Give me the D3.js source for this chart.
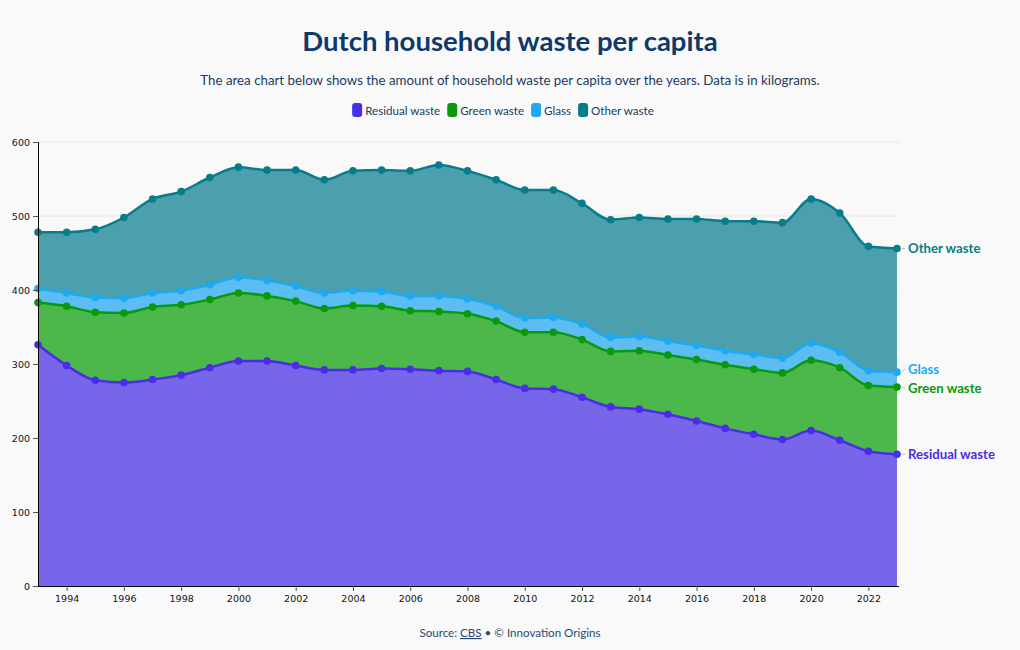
<!DOCTYPE html>
<html><head><meta charset="utf-8">
<script src="https://cdn.jsdelivr.net/npm/d3@7"></script>
<style>
body{margin:0;background:#f9f9f9;}
svg{display:block;}
</style></head>
<body>
<svg id="chart" width="1020" height="650"></svg>
<script>
const years = d3.range(1993, 2024);
const seriesNames = ["Residual waste", "Green waste", "Glass", "Other waste"];
const residual = [326,298,278,275,279,285,295,304,304,298,292,292,294,293,291,290,279,267,266,255,242,239,232,223,213,205,198,210,197,182,178];
const green = [57,80,92,94,98,95,92,92,88,87,83,87,84,79,80,78,79,76,77,78,75,79,80,83,86,88,90,95,98,89,91];
const glass = [19,18,20,20,19,19,20,21,21,20,21,20,20,20,21,20,20,19,20,21,19,19,19,19,19,20,20,23,21,20,20];
const other = [76,82,92,109,127,134,145,149,149,157,153,162,164,169,177,173,171,173,172,163,159,161,165,171,175,180,183,195,188,168,167];
const yTicks = [0,100,200,300,400,500,600];
const xTicks = [1994,1996,1998,2000,2002,2004,2006,2008,2010,2012,2014,2016,2018,2020,2022];

const lineColors = ["#4a2de6","#0b990b","#1fa9ee","#077d8c"];
const fillColors = ["#7866ea","#4cb84c","#5bbdf1","#4c9fad"];
const labelColors = ["#4a2de6","#0b990b","#1fa9ee","#077d8c"];

const table = years.map((y,i)=>({year:y,"Residual waste":residual[i],"Green waste":green[i],"Glass":glass[i],"Other waste":other[i]}));
const stack = d3.stack().keys(seriesNames)(table);

const svg = d3.select("#chart");
const font = "'Source Sans Pro', Lato, 'Noto Sans', sans-serif";
const m = {l:38, r:123, t:142, b:64};
const W = 1020, H = 650;
const x = d3.scaleLinear().domain([1993,2023]).range([m.l, W-m.r]);
const y = d3.scaleLinear().domain([0,600]).range([H-m.b, m.t]);

svg.append("text").attr("x",510).attr("y",51).attr("text-anchor","middle")
  .attr("font-family",font).attr("font-weight","bold").attr("font-size",27.5).attr("fill","#0d3a6a")
  .text("Dutch household waste per capita");
svg.append("text").attr("x",510).attr("y",85).attr("text-anchor","middle")
  .attr("font-family",font).attr("font-size",13.3).attr("fill","#1c3b5e")
  .text("The area chart below shows the amount of household waste per capita over the years. Data is in kilograms.");

// legend
const leg = svg.append("g");
let lx = 0;
seriesNames.forEach((n,i)=>{
  const g = leg.append("g").attr("transform",`translate(${lx},0)`);
  g.append("rect").attr("x",0).attr("y",-7).attr("width",10).attr("height",14).attr("rx",3).attr("fill",lineColors[i]);
  const t = g.append("text").attr("x",13).attr("y",4.5).attr("font-family",font).attr("font-size",11.6).attr("fill","#1c3b5e").text(n);
  lx += 13 + t.node().getComputedTextLength() + 7;
});
const legW = lx - 7;
leg.attr("transform",`translate(${503-legW/2},110)`);

// grid
svg.append("g").selectAll("line").data(yTicks.filter(d=>d>0)).join("line")
  .attr("x1",m.l).attr("x2",W-m.r+2).attr("y1",d=>y(d)).attr("y2",d=>y(d))
  .attr("stroke","#e6e6e6").attr("stroke-width",1);

const area = d3.area().x(d=>x(d.data.year)).y0(d=>y(d[0])).y1(d=>y(d[1])).curve(d3.curveMonotoneX);
const line = d3.line().x(d=>x(d.data.year)).y(d=>y(d[1])).curve(d3.curveMonotoneX);

svg.append("g").selectAll("path").data(stack).join("path")
  .attr("d",area).attr("fill",(d,i)=>fillColors[i]);

stack.forEach((s,i)=>{
  svg.append("path").datum(s).attr("d",line).attr("fill","none").attr("stroke",lineColors[i]).attr("stroke-width",2.5);
});
stack.forEach((s,i)=>{
  svg.append("g").selectAll("circle").data(s).join("circle")
    .attr("cx",d=>x(d.data.year)).attr("cy",d=>y(d[1])).attr("r",3.8).attr("fill",lineColors[i]);
});

// axes
const yAx = svg.append("g").attr("transform",`translate(${m.l},0)`)
  .call(d3.axisLeft(y).tickValues(yTicks).tickSize(5).tickPadding(3));
yAx.selectAll("text").attr("font-family","'DejaVu Sans', sans-serif").attr("font-size",9.5).attr("fill","#111");
yAx.select(".domain").attr("stroke","#000");
yAx.selectAll(".tick line").attr("stroke","#555");

const xAx = svg.append("g").attr("transform",`translate(0,${H-m.b})`)
  .call(d3.axisBottom(x).tickValues(xTicks).tickFormat(d3.format("d")).tickSize(5).tickSizeOuter(0).tickPadding(4));
xAx.select(".domain").attr("d",`M${m.l},0.5H${W-m.r+2}`).attr("stroke","#000");
xAx.selectAll("text").attr("font-family","'DejaVu Sans', sans-serif").attr("font-size",9.5).attr("fill","#111");
xAx.selectAll(".tick line").attr("stroke","#555");

// end labels
const lastVals = stack.map(s=>s[s.length-1][1]);
const labelOffsets = [0, 2, -3, 0];
const lastX = x(years[years.length-1]);
stack.forEach((s,i)=>{
  const vy = y(lastVals[i]);
  const ly = vy + labelOffsets[i];
  svg.append("line").attr("x1",lastX+5).attr("x2",lastX+8).attr("y1",vy).attr("y2",ly)
    .attr("stroke","#bbb").attr("stroke-width",1);
  svg.append("text").attr("x",lastX+11).attr("y",ly+4.5).attr("font-family",font)
    .attr("font-weight","bold").attr("font-size",13.2).attr("fill",labelColors[i]).text(seriesNames[i]);
});

// source
const src = svg.append("text").attr("x",510).attr("y",637).attr("text-anchor","middle")
  .attr("font-family",font).attr("font-size",11.6).attr("fill","#2a4a6e");
src.append("tspan").text("Source: ");
src.append("tspan").attr("text-decoration","underline").text("CBS");
src.append("tspan").text(" • © Innovation Origins");
</script>
</body></html>
